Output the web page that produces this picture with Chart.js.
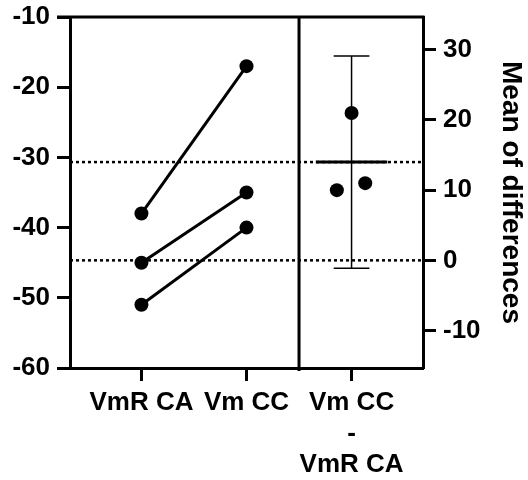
<!DOCTYPE html>
<html>
<head>
<meta charset="utf-8">
<script src="https://cdn.jsdelivr.net/npm/chart.js@4"></script>
<style>
  html, body { margin: 0; padding: 0; background: #fff; }
  #wrap { width: 528px; height: 480px; }
</style>
</head>
<body>
<div id="wrap"><canvas id="chart" width="528" height="480"></canvas></div>
<script>
// paired measurements, one entry per cell
const vmrCA = [-38, -45, -51];
const vmCC = [-17, -35, -40];

// category positions and labels along the x axis
const xTicks = [1, 2, 3];
const xLabels = ['VmR CA', 'Vm CC', ['Vm CC', '-', 'VmR CA']];

// left axis range and ticks
const leftMin = -60;
const leftMax = -10;
const leftTicks = [-60, -50, -40, -30, -20, -10];
const rightTicks = [-10, 0, 10, 20, 30];

// horizontal spread of the difference points
const jitter = [0, -0.14, 0.13];

// 95% CI multiplier for n = 3 (t, df = 2)
const tCrit = 4.303;

document.addEventListener('DOMContentLoaded', () => {
    const ctx = document.getElementById('chart').getContext('2d');

    const diffs = vmCC.map((v, i) => v - vmrCA[i]);
    const n = diffs.length;
    const meanDiff = diffs.reduce((s, d) => s + d, 0) / n;
    const sd = Math.sqrt(diffs.reduce((s, d) => s + (d - meanDiff) ** 2, 0) / (n - 1));
    const half = tCrit * sd / Math.sqrt(n);
    const baseMean = vmrCA.reduce((s, v) => s + v, 0) / n;

    // right axis is the left axis shifted so that 0 sits on the VmR CA mean
    const rightMin = leftMin - baseMean;
    const rightMax = leftMax - baseMean;

    const xMin = 0.32, xMax = 3.68, divider = 2.5;
    const font = { family: "'Liberation Sans', Arial, sans-serif", weight: 'bold', size: 26 };

    const pairSets = vmrCA.map((v, i) => ({
        type: 'line',
        data: [{ x: xTicks[0], y: v }, { x: xTicks[1], y: vmCC[i] }],
        yAxisID: 'y',
        borderColor: '#000',
        borderWidth: 3,
        backgroundColor: '#000',
        pointRadius: 7,
        pointBorderWidth: 0,
        order: 1
    }));

    const dotted = (y) => ({
        type: 'line',
        data: [{ x: xMin, y }, { x: xMax, y }],
        yAxisID: 'y2',
        borderColor: '#000',
        borderWidth: 2.5,
        borderDash: [3, 3],
        pointRadius: 0,
        order: 5
    });

    const seg = (x0, y0, x1, y1, w) => ({
        type: 'line',
        data: [{ x: x0, y: y0 }, { x: x1, y: y1 }],
        yAxisID: 'y2',
        borderColor: '#000',
        borderWidth: w,
        pointRadius: 0,
        order: 3
    });

    const frame = {
        id: 'frame',
        beforeDatasetsDraw(chart) {
            const { ctx, chartArea, scales } = chart;
            const xd = scales.x.getPixelForValue(divider);
            ctx.save();
            ctx.strokeStyle = '#000';
            ctx.lineWidth = 3;
            ctx.beginPath();
            ctx.moveTo(chartArea.left - 13, chartArea.top);
            ctx.lineTo(chartArea.right + 1.5, chartArea.top);
            ctx.moveTo(xd, chartArea.top);
            ctx.lineTo(xd, chartArea.bottom + 3);
            ctx.stroke();
            ctx.restore();
        }
    };

    const fitV = (w) => (s) => { s.width = w; s.paddingTop = 0; s.paddingBottom = 0; };

    new Chart(ctx, {
        data: {
            datasets: [
                dotted(0),
                dotted(meanDiff),
                ...pairSets,
                {
                    type: 'scatter',
                    data: diffs.map((d, i) => ({ x: xTicks[2] + jitter[i], y: d })),
                    yAxisID: 'y2',
                    backgroundColor: '#000',
                    pointRadius: 7,
                    pointBorderWidth: 0,
                    order: 1
                },
                seg(xTicks[2], meanDiff - half, xTicks[2], meanDiff + half, 1.5),
                seg(xTicks[2] - 0.17, meanDiff + half, xTicks[2] + 0.17, meanDiff + half, 1.5),
                seg(xTicks[2] - 0.17, meanDiff - half, xTicks[2] + 0.17, meanDiff - half, 1.5),
                seg(xTicks[2] - 0.34, meanDiff, xTicks[2] + 0.34, meanDiff, 3)
            ]
        },
        options: {
            responsive: false,
            animation: false,
            layout: { padding: { top: 17, left: 0, right: 0, bottom: 0 } },
            plugins: {
                legend: { display: false },
                tooltip: { enabled: false }
            },
            scales: {
                x: {
                    type: 'linear',
                    min: xMin,
                    max: xMax,
                    afterBuildTicks: (s) => { s.ticks = xTicks.map(v => ({ value: v })); },
                    afterFit: (s) => { s.height = 112; s.paddingLeft = 0; s.paddingRight = 0; },
                    ticks: {
                        autoSkip: false,
                        maxRotation: 0,
                        padding: 6,
                        color: '#000',
                        font,
                        callback: (v) => xLabels[xTicks.indexOf(v)]
                    },
                    grid: { drawOnChartArea: false, tickLength: 13, tickWidth: 3, tickColor: '#000' },
                    border: { color: '#000', width: 3 }
                },
                y: {
                    position: 'left',
                    min: leftMin,
                    max: leftMax,
                    afterBuildTicks: (s) => { s.ticks = leftTicks.map(v => ({ value: v })); },
                    afterFit: fitV(70),
                    ticks: { padding: 7, color: '#000', font },
                    grid: { drawOnChartArea: false, tickLength: 13, tickWidth: 3, tickColor: '#000' },
                    border: { color: '#000', width: 3 }
                },
                y2: {
                    position: 'right',
                    min: rightMin,
                    max: rightMax,
                    afterBuildTicks: (s) => { s.ticks = rightTicks.map(v => ({ value: v })); },
                    afterFit: fitV(105),
                    ticks: { padding: 7, color: '#000', font },
                    grid: { drawOnChartArea: false, tickLength: 13, tickWidth: 3, tickColor: '#000' },
                    border: { color: '#000', width: 3 },
                    title: {
                        display: true,
                        text: 'Mean of differences',
                        color: '#000',
                        padding: 0,
                        font: { family: font.family, weight: 'bold', size: 28 }
                    }
                }
            }
        },
        plugins: [frame]
    });
});
</script>
</body>
</html>
